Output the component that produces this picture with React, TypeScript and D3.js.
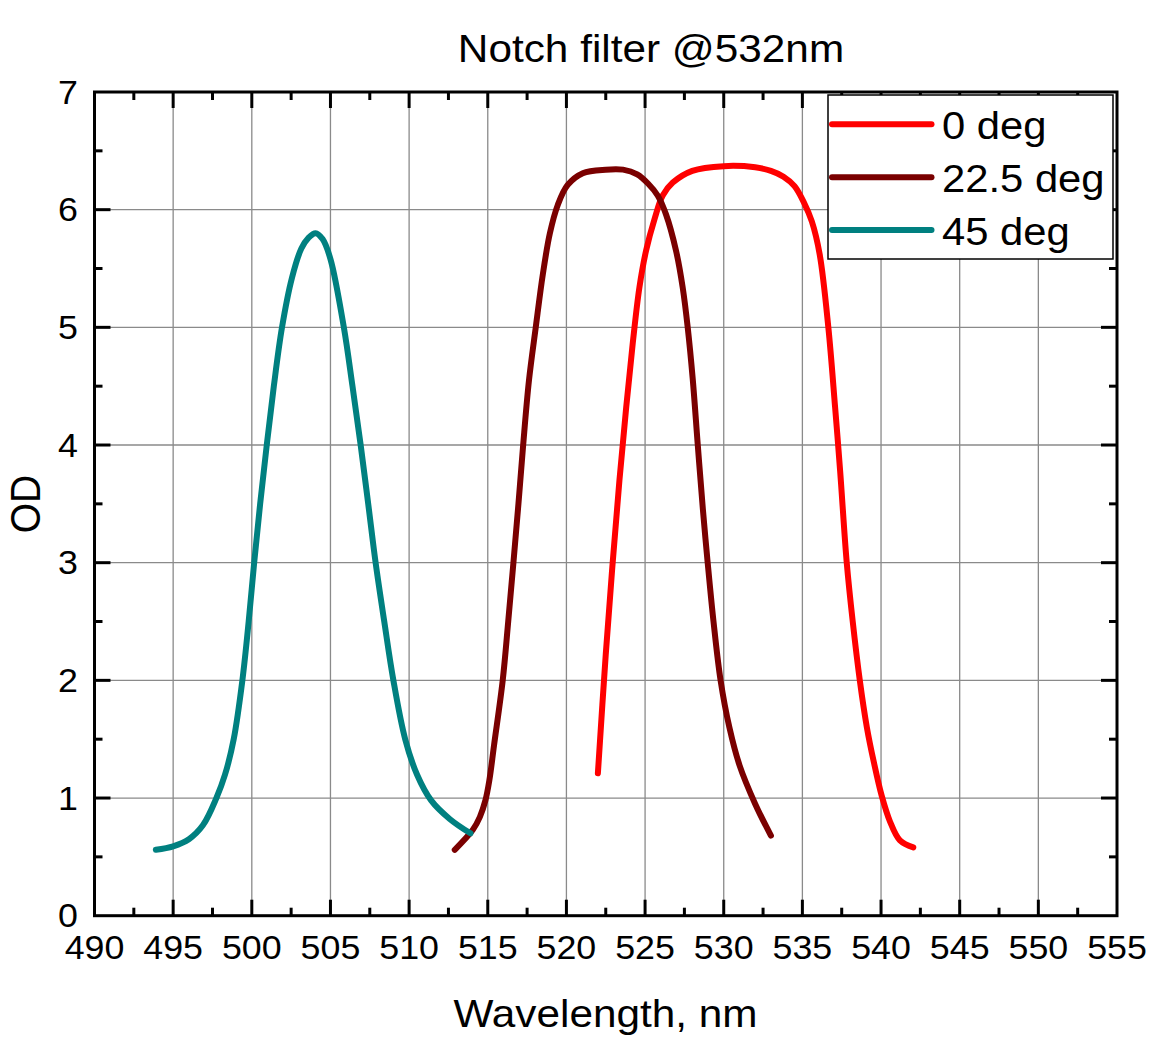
import React from "react";
import * as d3 from "d3";

// wavelength (nm) / optical density readings for each angle of incidence
const wl0deg = [522.0, 522.5, 522.94, 523.37, 523.8, 524.22, 524.64, 525.06, 525.6, 526.12, 526.76, 528.0, 530.0, 532.0, 533.0, 533.8, 534.5, 535.1, 535.6, 536.1, 536.65, 537.08, 537.4, 537.82, 538.2, 538.65, 539.1, 539.55, 540.04, 540.57, 541.2, 542.05];
const od0deg = [1.21, 2.22, 3.0, 3.7, 4.32, 4.87, 5.34, 5.65, 5.92, 6.12, 6.23, 6.33, 6.37, 6.36, 6.33, 6.28, 6.2, 6.06, 5.9, 5.62, 5.0, 4.32, 3.78, 3.0, 2.5, 2.0, 1.6, 1.3, 1.02, 0.8, 0.64, 0.58];

const wl22deg = [512.9, 514.05, 514.5, 514.85, 515.1, 515.4, 515.95, 516.3, 516.63, 516.95, 517.25, 517.62, 518.05, 518.5, 518.95, 519.45, 520.08, 521.04, 522.5, 523.6, 524.5, 525.2, 525.8, 526.33, 526.97, 527.39, 527.71, 528.03, 528.35, 528.67, 528.98, 529.35, 529.8, 530.36, 531.0, 532.0, 533.0];
const od22deg = [0.56, 0.73, 0.84, 0.98, 1.15, 1.45, 2.0, 2.5, 3.0, 3.5, 4.0, 4.55, 5.0, 5.45, 5.8, 6.04, 6.21, 6.31, 6.34, 6.34, 6.3, 6.22, 6.12, 5.96, 5.65, 5.34, 5.0, 4.56, 4.0, 3.46, 3.0, 2.5, 2.0, 1.6, 1.28, 0.95, 0.68];

const wl45deg = [493.9, 495.0, 496.0, 496.9, 497.75, 498.3, 498.85, 499.4, 499.8, 500.15, 500.53, 500.95, 501.4, 501.92, 502.55, 503.15, 503.6, 504.05, 504.5, 505.0, 505.85, 506.4, 506.92, 507.4, 507.87, 508.42, 509.0, 509.75, 510.5, 511.4, 512.6, 513.9];
const od45deg = [0.56, 0.59, 0.65, 0.77, 1.0, 1.2, 1.5, 2.0, 2.5, 3.0, 3.5, 4.0, 4.5, 5.0, 5.42, 5.67, 5.76, 5.8, 5.75, 5.58, 5.0, 4.5, 4.0, 3.5, 3.0, 2.5, 2.0, 1.5, 1.2, 0.98, 0.82, 0.7];

const seriesNames = ["0 deg", "22.5 deg", "45 deg"];
const seriesColors = ["#ff0000", "#7a0000", "#008080"];

const xTicks = d3.range(490, 556, 5);
const xMinorTicks = d3.range(492.5, 555, 5);
const yTicks = d3.range(0, 8, 1);
const yMinorTicks = d3.range(0.5, 7, 1);

const W = 1166;
const H = 1043;
const left = 94.5, right = 1117, top = 92, bottom = 915.7;
const FONT = "'Liberation Sans', Arial, sans-serif";
const SX = 1.085; // glyphs in the reference are a little wide

export default function App() {
  const x = d3.scaleLinear().domain([490, 555]).range([left, right]);
  const y = d3.scaleLinear().domain([0, 7]).range([bottom, top]);

  const series = [
    wl0deg.map((w, i) => [w, od0deg[i]]),
    wl22deg.map((w, i) => [w, od22deg[i]]),
    wl45deg.map((w, i) => [w, od45deg[i]]),
  ];

  const line = d3
    .line<number[]>()
    .x((d) => x(d[0]))
    .y((d) => y(d[1]))
    .curve(d3.curveCatmullRom.alpha(0.5));

  const legendRows = [124.3, 177.3, 230];

  return (
    <svg
      width={W}
      height={H}
      style={{ position: "absolute", left: 0, top: 0, background: "#fff" }}
      fontFamily={FONT}
    >
      {/* grid */}
      {xTicks.slice(1, -1).map((t) => (
        <line key={"gx" + t} x1={x(t)} x2={x(t)} y1={top} y2={bottom} stroke="#8a8a8a" strokeWidth={1.3} />
      ))}
      {yTicks.slice(1, -1).map((t) => (
        <line key={"gy" + t} x1={left} x2={right} y1={y(t)} y2={y(t)} stroke="#8a8a8a" strokeWidth={1.3} />
      ))}

      {/* curves */}
      {series.map((s, i) => (
        <path
          key={"s" + i}
          d={line(s) || ""}
          fill="none"
          stroke={seriesColors[i]}
          strokeWidth={6}
          strokeLinecap="round"
          strokeLinejoin="round"
        />
      ))}

      {/* ticks, inward on all four sides */}
      {xTicks.slice(1, -1).map((t) => (
        <g key={"tx" + t} stroke="#000" strokeWidth={3}>
          <line x1={x(t)} x2={x(t)} y1={bottom} y2={bottom - 16} />
          <line x1={x(t)} x2={x(t)} y1={top} y2={top + 16} />
        </g>
      ))}
      {xMinorTicks.map((t) => (
        <g key={"mx" + t} stroke="#000" strokeWidth={3}>
          <line x1={x(t)} x2={x(t)} y1={bottom} y2={bottom - 8} />
          <line x1={x(t)} x2={x(t)} y1={top} y2={top + 8} />
        </g>
      ))}
      {yTicks.slice(1, -1).map((t) => (
        <g key={"ty" + t} stroke="#000" strokeWidth={3}>
          <line x1={left} x2={left + 16} y1={y(t)} y2={y(t)} />
          <line x1={right} x2={right - 16} y1={y(t)} y2={y(t)} />
        </g>
      ))}
      {yMinorTicks.map((t) => (
        <g key={"my" + t} stroke="#000" strokeWidth={3}>
          <line x1={left} x2={left + 8} y1={y(t)} y2={y(t)} />
          <line x1={right} x2={right - 8} y1={y(t)} y2={y(t)} />
        </g>
      ))}

      {/* frame */}
      <rect x={left} y={top} width={right - left} height={bottom - top} fill="none" stroke="#000" strokeWidth={3} />

      {/* tick labels */}
      {xTicks.map((t) => (
        <text
          key={"lx" + t}
          transform={`translate(${x(t)},959) scale(${SX},1)`}
          textAnchor="middle"
          fontSize={33}
          fill="#000"
        >
          {t}
        </text>
      ))}
      {yTicks.map((t) => (
        <text
          key={"ly" + t}
          transform={`translate(78,${y(t) + 11.5}) scale(${SX},1)`}
          textAnchor="end"
          fontSize={33}
          fill="#000"
        >
          {t}
        </text>
      ))}

      {/* titles */}
      <text transform={`translate(651,61.7) scale(${SX},1)`} textAnchor="middle" fontSize={39} fill="#000">
        Notch filter @532nm
      </text>
      <text transform={`translate(605.5,1026.7) scale(${SX},1)`} textAnchor="middle" fontSize={39} fill="#000">
        Wavelength, nm
      </text>
      <text transform={`translate(40,504) scale(${SX},1) rotate(-90)`} textAnchor="middle" fontSize={39} fill="#000">
        OD
      </text>

      {/* legend */}
      <rect x={828} y={95} width={285} height={164} fill="#fff" stroke="#000" strokeWidth={1.5} />
      {seriesNames.map((name, i) => (
        <g key={"lg" + i}>
          <line
            x1={832}
            x2={931.5}
            y1={legendRows[i]}
            y2={legendRows[i]}
            stroke={seriesColors[i]}
            strokeWidth={6}
            strokeLinecap="round"
          />
          <text
            transform={`translate(942,${legendRows[i] + 14.5}) scale(${SX},1)`}
            fontSize={38.5}
            fill="#000"
          >
            {name}
          </text>
        </g>
      ))}
    </svg>
  );
}
